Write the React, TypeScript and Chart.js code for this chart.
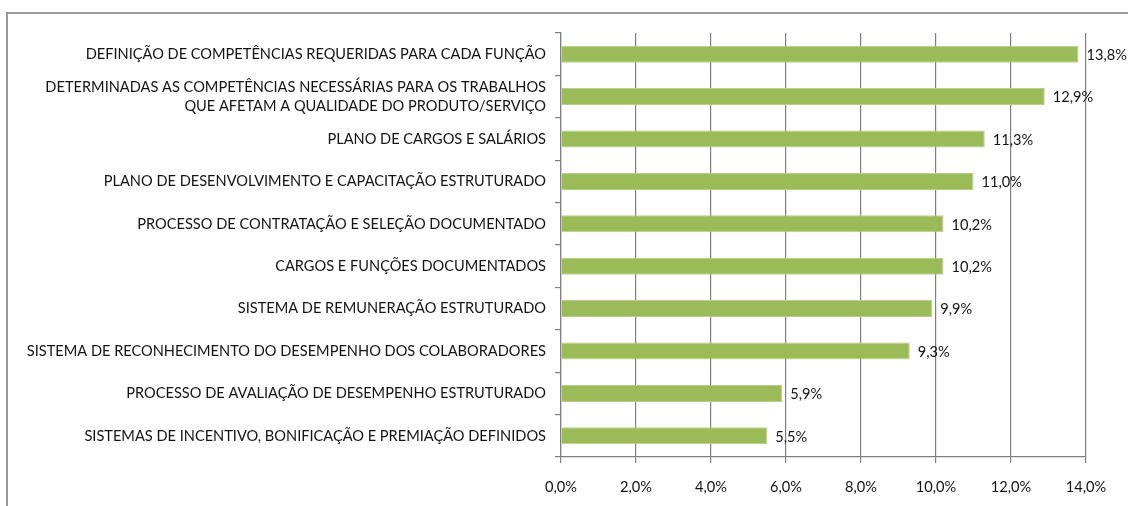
import React, { useEffect, useRef } from "react";
import { Chart, registerables } from "chart.js";

Chart.register(...registerables);

const categories: (string | string[])[] = [
  "DEFINIÇÃO DE COMPETÊNCIAS REQUERIDAS PARA CADA FUNÇÃO",
  ["DETERMINADAS AS COMPETÊNCIAS NECESSÁRIAS PARA OS TRABALHOS", "QUE AFETAM A QUALIDADE DO PRODUTO/SERVIÇO"],
  "PLANO DE CARGOS E SALÁRIOS",
  "PLANO DE DESENVOLVIMENTO E CAPACITAÇÃO ESTRUTURADO",
  "PROCESSO DE CONTRATAÇÃO E SELEÇÃO DOCUMENTADO",
  "CARGOS E FUNÇÕES DOCUMENTADOS",
  "SISTEMA DE REMUNERAÇÃO ESTRUTURADO",
  "SISTEMA DE RECONHECIMENTO DO DESEMPENHO DOS COLABORADORES",
  "PROCESSO DE AVALIAÇÃO DE DESEMPENHO ESTRUTURADO",
  "SISTEMAS DE INCENTIVO, BONIFICAÇÃO E PREMIAÇÃO DEFINIDOS",
];

const values: number[] = [13.8, 12.9, 11.3, 11.0, 10.2, 10.2, 9.9, 9.3, 5.9, 5.5];

const xMin = 0;
const xMax = 14;
const xStep = 2;

const FONT = "Lato, Carlito, 'Liberation Sans', sans-serif";
const FSIZE = 14.6;
const fmt = (v: number) => v.toFixed(1).replace(".", ",") + "%";

const valueLabels = {
  id: "valueLabels",
  afterDatasetsDraw(chart: any) {
    const ctx = chart.ctx;
    const meta = chart.getDatasetMeta(0);
    ctx.save();
    ctx.font = `${FSIZE}px ${FONT}`;
    ctx.fillStyle = "#141414";
    ctx.textAlign = "left";
    ctx.textBaseline = "middle";
    meta.data.forEach((bar: any, i: number) => {
      ctx.fillText(fmt(values[i]), bar.x + 8, bar.y + 1);
    });
    ctx.restore();
  },
};

export default function App() {
  const ref = useRef<HTMLCanvasElement>(null);
  useEffect(() => {
    if (!ref.current) return;
    const chart = new Chart(ref.current, {
      type: "bar",
      data: {
        labels: categories,
        datasets: [
          {
            data: values,
            backgroundColor: "#9BBB59",
            borderColor: "#B5CF86",
            borderWidth: 1,
            barPercentage: 0.4,
            categoryPercentage: 1,
          },
        ],
      },
      options: {
        indexAxis: "y",
        animation: false,
        responsive: false,
        maintainAspectRatio: false,
        layout: { padding: { left: 0, right: 42, top: 33, bottom: 0 } },
        plugins: { legend: { display: false }, tooltip: { enabled: false } },
        scales: {
          x: {
            min: xMin,
            max: xMax,
            ticks: {
              stepSize: xStep,
              callback: (v: any) => fmt(Number(v)),
              color: "#141414",
              font: { family: FONT, size: FSIZE },
              padding: 16,
            },
            grid: { color: "#7f7f7f", lineWidth: 1.2, tickLength: 6 },
            border: { color: "#7f7f7f", width: 1.2 },
            afterFit: (s: any) => {
              s.height = 49;
            },
          },
          y: {
            ticks: {
              color: "#141414",
              font: { family: FONT, size: FSIZE, lineHeight: 1.3 },
              padding: 9,
              autoSkip: false,
            },
            grid: { offset: true, drawOnChartArea: false, color: "#7f7f7f", tickLength: 6, lineWidth: 1.2 },
            border: { color: "#7f7f7f", width: 1.2 },
            afterFit: (s: any) => {
              s.width = 561;
            },
          },
        },
      },
      plugins: [valueLabels],
    });
    return () => chart.destroy();
  }, []);
  return (
    <div style={{ position: "fixed", left: 0, top: 0, width: 1128, height: 506, overflow: "hidden", background: "#fff" }}>
      <div
        style={{
          position: "absolute",
          left: 6,
          top: 12,
          width: 1200,
          height: 600,
          border: "2px solid #9a9a9a",
        }}
      />
      <canvas ref={ref} width={1128} height={506} style={{ position: "absolute", left: 0, top: 0 }} />
    </div>
  );
}
